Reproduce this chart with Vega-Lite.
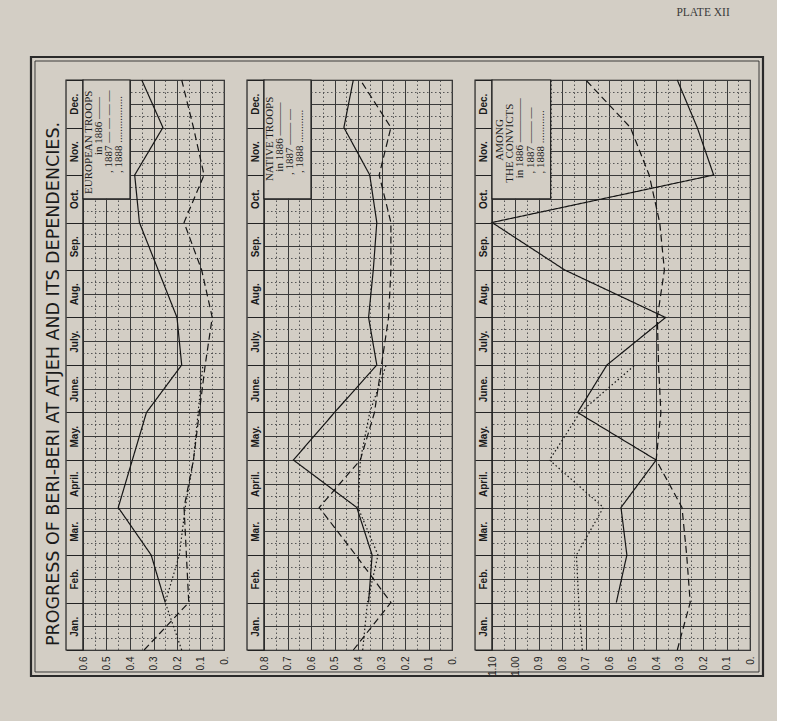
{
  "$schema": "https://vega.github.io/schema/vega-lite/v6.json",
  "background": "#d3cec5",
  "padding": {"left": 29, "top": 6, "right": 12, "bottom": 45},
  "bounds": "flush",
  "spacing": 40,
  "config": {
    "view": {"stroke": "#222", "strokeWidth": 1.2},
    "axis": {"labelColor": "#1a1a1a", "title": null, "domain": false, "labelOverlap": false, "labelFlush": false, "labelBound": false}
  },
  "datasets": {
    "european": [
      {"year": "1886", "m": 1, "v": 0.25}, {"year": "1886", "m": 2, "v": 0.31}, {"year": "1886", "m": 3, "v": 0.45},
      {"year": "1886", "m": 4, "v": 0.39}, {"year": "1886", "m": 5, "v": 0.33}, {"year": "1886", "m": 6, "v": 0.18},
      {"year": "1886", "m": 7, "v": 0.2}, {"year": "1886", "m": 8, "v": 0.28}, {"year": "1886", "m": 9, "v": 0.36},
      {"year": "1886", "m": 10, "v": 0.38}, {"year": "1886", "m": 11, "v": 0.26}, {"year": "1886", "m": 12, "v": 0.35},
      {"year": "1887", "m": 0, "v": 0.34}, {"year": "1887", "m": 1, "v": 0.15}, {"year": "1887", "m": 2, "v": 0.16},
      {"year": "1887", "m": 3, "v": 0.17}, {"year": "1887", "m": 4, "v": 0.13}, {"year": "1887", "m": 5, "v": 0.105},
      {"year": "1887", "m": 6, "v": 0.08}, {"year": "1887", "m": 7, "v": 0.05}, {"year": "1887", "m": 8, "v": 0.095},
      {"year": "1887", "m": 9, "v": 0.17}, {"year": "1887", "m": 10, "v": 0.085}, {"year": "1887", "m": 11, "v": 0.13},
      {"year": "1887", "m": 12, "v": 0.18},
      {"year": "1888", "m": 0, "v": 0.18}, {"year": "1888", "m": 1, "v": 0.25}, {"year": "1888", "m": 2, "v": 0.19},
      {"year": "1888", "m": 3, "v": 0.165}, {"year": "1888", "m": 4, "v": 0.13}, {"year": "1888", "m": 5, "v": 0.11},
      {"year": "1888", "m": 6, "v": 0.09}
    ],
    "native": [
      {"year": "1886", "m": 1, "v": 0.355}, {"year": "1886", "m": 2, "v": 0.34}, {"year": "1886", "m": 3, "v": 0.405},
      {"year": "1886", "m": 4, "v": 0.675}, {"year": "1886", "m": 5, "v": 0.5}, {"year": "1886", "m": 6, "v": 0.32},
      {"year": "1886", "m": 7, "v": 0.355}, {"year": "1886", "m": 8, "v": 0.335}, {"year": "1886", "m": 9, "v": 0.32},
      {"year": "1886", "m": 10, "v": 0.35}, {"year": "1886", "m": 11, "v": 0.46}, {"year": "1886", "m": 12, "v": 0.42},
      {"year": "1887", "m": 0, "v": 0.42}, {"year": "1887", "m": 1, "v": 0.26}, {"year": "1887", "m": 2, "v": 0.41},
      {"year": "1887", "m": 3, "v": 0.565}, {"year": "1887", "m": 4, "v": 0.39}, {"year": "1887", "m": 5, "v": 0.33},
      {"year": "1887", "m": 6, "v": 0.3}, {"year": "1887", "m": 7, "v": 0.27}, {"year": "1887", "m": 8, "v": 0.26},
      {"year": "1887", "m": 9, "v": 0.26}, {"year": "1887", "m": 10, "v": 0.31}, {"year": "1887", "m": 11, "v": 0.26},
      {"year": "1887", "m": 12, "v": 0.39},
      {"year": "1888", "m": 0, "v": 0.38}, {"year": "1888", "m": 1, "v": 0.36}, {"year": "1888", "m": 2, "v": 0.315},
      {"year": "1888", "m": 3, "v": 0.4}, {"year": "1888", "m": 4, "v": 0.39}, {"year": "1888", "m": 5, "v": 0.35},
      {"year": "1888", "m": 6, "v": 0.28}
    ],
    "convicts": [
      {"year": "1886", "m": 1, "v": 0.57}, {"year": "1886", "m": 2, "v": 0.525}, {"year": "1886", "m": 3, "v": 0.55},
      {"year": "1886", "m": 4, "v": 0.4}, {"year": "1886", "m": 5, "v": 0.735}, {"year": "1886", "m": 6, "v": 0.61},
      {"year": "1886", "m": 7, "v": 0.36}, {"year": "1886", "m": 8, "v": 0.79}, {"year": "1886", "m": 9, "v": 1.1},
      {"year": "1886", "m": 10, "v": 0.155}, {"year": "1886", "m": 11, "v": 0.225}, {"year": "1886", "m": 12, "v": 0.31},
      {"year": "1887", "m": 0, "v": 0.31}, {"year": "1887", "m": 1, "v": 0.255}, {"year": "1887", "m": 2, "v": 0.27},
      {"year": "1887", "m": 3, "v": 0.29}, {"year": "1887", "m": 4, "v": 0.4}, {"year": "1887", "m": 5, "v": 0.38},
      {"year": "1887", "m": 6, "v": 0.39}, {"year": "1887", "m": 7, "v": 0.395}, {"year": "1887", "m": 8, "v": 0.365},
      {"year": "1887", "m": 9, "v": 0.385}, {"year": "1887", "m": 10, "v": 0.43}, {"year": "1887", "m": 11, "v": 0.51},
      {"year": "1887", "m": 12, "v": 0.7},
      {"year": "1888", "m": 0, "v": 0.715}, {"year": "1888", "m": 1, "v": 0.73}, {"year": "1888", "m": 2, "v": 0.74},
      {"year": "1888", "m": 3, "v": 0.625}, {"year": "1888", "m": 4, "v": 0.855}, {"year": "1888", "m": 5, "v": 0.725},
      {"year": "1888", "m": 6, "v": 0.49}
    ]
  },
  "hconcat": [
    {
      "width": 141, "height": 570,
      "resolve": {"axis": {"x": "independent", "y": "independent"}},
      "layer": [
        {"data": {"name": "european"},
         "mark": {"type": "line", "stroke": "#151515", "strokeWidth": 1.2},
         "encoding": {
           "x": {"field": "v", "type": "quantitative", "scale": {"domain": [0, 0.6], "reverse": true, "nice": false, "zero": false},
             "axis": {"orient": "bottom", "values": [0, 0.1, 0.2, 0.3, 0.4, 0.5, 0.6], "ticks": false,
               "labelExpr": "datum.value == 0 ? '0.' : format(datum.value, '.1f')",
               "labelAngle": 270, "labelAlign": "right", "labelBaseline": "middle", "labelPadding": 6, "labelFont": "Liberation Sans", "labelFontSize": 10,
               "grid": true, "gridColor": "#3a3a3a", "gridWidth": 1}},
           "y": {"field": "m", "type": "quantitative", "scale": {"domain": [0, 12], "nice": false, "zero": false},
             "axis": {"orient": "left", "values": [0,1,2,3,4,5,6,7,8,9,10,11,12],
               "ticks": true, "tickSize": 17, "tickWidth": 1, "tickColor": "#222",
               "labelExpr": "datum.value < 12 ? ['Jan.','Feb.','Mar.','April.','May.','June.','July.','Aug.','Sep.','Oct.','Nov.','Dec.'][datum.value] : ''",
               "labelOffset": -23.75, "labelAngle": 270, "labelAlign": "center", "labelBaseline": "middle", "labelPadding": -8.5, "labelFont": "Liberation Sans", "labelFontSize": 10, "labelFontWeight": "bold",
               "grid": true, "gridColor": "#3a3a3a", "gridWidth": 1}},
           "order": {"field": "m", "type": "quantitative"},
           "detail": {"field": "year", "type": "nominal"},
           "strokeDash": {"field": "year", "type": "nominal", "scale": {"domain": ["1886", "1887", "1888"], "range": [[1, 0], [7, 4], [1.5, 2.5]]}, "legend": null}
         }},
        {"data": {"values": [{}]}, "mark": {"type": "rect", "fill": "transparent", "stroke": "#222", "strokeWidth": 1.2},
         "encoding": {
           "x": {"datum": 0.6, "type": "quantitative", "axis": {"orient": "bottom", "values": [0.05, 0.15, 0.25, 0.35, 0.45, 0.55], "ticks": false, "labels": false, "grid": true, "gridColor": "#555", "gridDash": [1.5, 2.5], "gridWidth": 1}},
           "x2": {"datum": 0.6723},
           "y": {"datum": 0, "type": "quantitative", "axis": {"orient": "left", "values": [0.5,1.5,2.5,3.5,4.5,5.5,6.5,7.5,8.5,9.5,10.5,11.5], "ticks": false, "labels": false, "grid": true, "gridColor": "#3a3a3a", "gridWidth": 1}},
           "y2": {"datum": 12}}},
        {"data": {"values": [{}]}, "mark": {"type": "rect", "fill": "#d3cec5", "stroke": "#222", "strokeWidth": 1.2},
         "encoding": {
           "x": {"datum": 0.6, "type": "quantitative", "axis": null}, "x2": {"datum": 0.4},
           "y": {"datum": 9.5, "type": "quantitative", "axis": {"orient": "left", "values": [0.25,0.75,1.25,1.75,2.25,2.75,3.25,3.75,4.25,4.75,5.25,5.75,6.25,6.75,7.25,7.75,8.25,8.75,9.25,9.75,10.25,10.75,11.25,11.75], "ticks": false, "labels": false, "grid": true, "gridColor": "#555", "gridDash": [1.5, 2.5], "gridWidth": 1}},
           "y2": {"datum": 12}}},
        {"data": {"values": [{}]}, "mark": {"type": "rect", "fill": "transparent", "stroke": "#2a2a2a", "strokeWidth": 2.2},
         "encoding": {"x": {"datum": 0.8213, "type": "quantitative", "axis": null}, "x2": {"datum": -2.2936}, "y": {"datum": 12.484, "type": "quantitative", "axis": null}, "y2": {"datum": -0.547}}},
        {"data": {"values": [{}]}, "mark": {"type": "rect", "fill": "transparent", "stroke": "#2a2a2a", "strokeWidth": 0.9},
         "encoding": {"x": {"datum": 0.8043, "type": "quantitative", "axis": null}, "x2": {"datum": -2.2766}, "y": {"datum": 12.4, "type": "quantitative", "axis": null}, "y2": {"datum": -0.463}}},
        {"data": {"values": [{}]}, "mark": {"type": "text", "text": "PROGRESS OF BERI-BERI AT ATJEH AND ITS DEPENDENCIES.", "angle": 270, "align": "center", "baseline": "middle", "font": "DejaVu Sans", "fontSize": 17.5, "color": "#1a1a1a"},
         "encoding": {"x": {"datum": 0.7234, "type": "quantitative", "axis": null}, "y": {"datum": 5.6, "type": "quantitative", "axis": null}}},
        {"data": {"values": [{}]}, "mark": {"type": "text", "text": "EUROPEAN TROOPS", "angle": 270, "align": "center", "baseline": "middle", "font": "Liberation Serif", "fontSize": 11, "color": "#1a1a1a"},
         "encoding": {"x": {"datum": 0.575, "type": "quantitative", "axis": null}, "y": {"datum": 10.69, "type": "quantitative", "axis": null}}},
        {"data": {"values": [{}]}, "mark": {"type": "text", "text": "in 1886 ——", "angle": 270, "align": "left", "baseline": "middle", "font": "Liberation Serif", "fontSize": 11, "color": "#1a1a1a"},
         "encoding": {"x": {"datum": 0.533, "type": "quantitative", "axis": null}, "y": {"datum": 10.42, "type": "quantitative", "axis": null}}},
        {"data": {"values": [{}]}, "mark": {"type": "text", "text": ",  1887 — — — —", "angle": 270, "align": "left", "baseline": "middle", "font": "Liberation Serif", "fontSize": 11, "color": "#1a1a1a"},
         "encoding": {"x": {"datum": 0.49, "type": "quantitative", "axis": null}, "y": {"datum": 10.04, "type": "quantitative", "axis": null}}},
        {"data": {"values": [{}]}, "mark": {"type": "text", "text": ",  1888 .................", "angle": 270, "align": "left", "baseline": "middle", "font": "Liberation Serif", "fontSize": 11, "color": "#1a1a1a"},
         "encoding": {"x": {"datum": 0.447, "type": "quantitative", "axis": null}, "y": {"datum": 10.04, "type": "quantitative", "axis": null}}}
      ]
    },
    {
      "width": 188, "height": 570,
      "resolve": {"axis": {"x": "independent", "y": "independent"}},
      "layer": [
        {"data": {"name": "native"},
         "mark": {"type": "line", "stroke": "#151515", "strokeWidth": 1.2},
         "encoding": {
           "x": {"field": "v", "type": "quantitative", "scale": {"domain": [0, 0.8], "reverse": true, "nice": false, "zero": false},
             "axis": {"orient": "bottom", "values": [0, 0.1, 0.2, 0.3, 0.4, 0.5, 0.6, 0.7, 0.8], "ticks": false,
               "labelExpr": "datum.value == 0 ? '0.' : format(datum.value, '.1f')",
               "labelAngle": 270, "labelAlign": "right", "labelBaseline": "middle", "labelPadding": 6, "labelFont": "Liberation Sans", "labelFontSize": 10,
               "grid": true, "gridColor": "#3a3a3a", "gridWidth": 1}},
           "y": {"field": "m", "type": "quantitative", "scale": {"domain": [0, 12], "nice": false, "zero": false},
             "axis": {"orient": "left", "values": [0,1,2,3,4,5,6,7,8,9,10,11,12],
               "ticks": true, "tickSize": 17, "tickWidth": 1, "tickColor": "#222",
               "labelExpr": "datum.value < 12 ? ['Jan.','Feb.','Mar.','April.','May.','June.','July.','Aug.','Sep.','Oct.','Nov.','Dec.'][datum.value] : ''",
               "labelOffset": -23.75, "labelAngle": 270, "labelAlign": "center", "labelBaseline": "middle", "labelPadding": -8.5, "labelFont": "Liberation Sans", "labelFontSize": 10, "labelFontWeight": "bold",
               "grid": true, "gridColor": "#3a3a3a", "gridWidth": 1}},
           "order": {"field": "m", "type": "quantitative"},
           "detail": {"field": "year", "type": "nominal"},
           "strokeDash": {"field": "year", "type": "nominal", "scale": {"domain": ["1886", "1887", "1888"], "range": [[1, 0], [7, 4], [1.5, 2.5]]}, "legend": null}
         }},
        {"data": {"values": [{}]}, "mark": {"type": "rect", "fill": "transparent", "stroke": "#222", "strokeWidth": 1.2},
         "encoding": {
           "x": {"datum": 0.8, "type": "quantitative", "axis": {"orient": "bottom", "values": [0.05, 0.15, 0.25, 0.35, 0.45, 0.55, 0.65, 0.75], "ticks": false, "labels": false, "grid": true, "gridColor": "#555", "gridDash": [1.5, 2.5], "gridWidth": 1}},
           "x2": {"datum": 0.8723},
           "y": {"datum": 0, "type": "quantitative", "axis": {"orient": "left", "values": [0.5,1.5,2.5,3.5,4.5,5.5,6.5,7.5,8.5,9.5,10.5,11.5], "ticks": false, "labels": false, "grid": true, "gridColor": "#3a3a3a", "gridWidth": 1}},
           "y2": {"datum": 12}}},
        {"data": {"values": [{}]}, "mark": {"type": "rect", "fill": "#d3cec5", "stroke": "#222", "strokeWidth": 1.2},
         "encoding": {
           "x": {"datum": 0.8, "type": "quantitative", "axis": null}, "x2": {"datum": 0.6},
           "y": {"datum": 9.5, "type": "quantitative", "axis": {"orient": "left", "values": [0.25,0.75,1.25,1.75,2.25,2.75,3.25,3.75,4.25,4.75,5.25,5.75,6.25,6.75,7.25,7.75,8.25,8.75,9.25,9.75,10.25,10.75,11.25,11.75], "ticks": false, "labels": false, "grid": true, "gridColor": "#555", "gridDash": [1.5, 2.5], "gridWidth": 1}},
           "y2": {"datum": 12}}},
        {"data": {"values": [{}]}, "mark": {"type": "text", "text": "NATIVE TROOPS", "angle": 270, "align": "center", "baseline": "middle", "font": "Liberation Serif", "fontSize": 11, "color": "#1a1a1a"},
         "encoding": {"x": {"datum": 0.775, "type": "quantitative", "axis": null}, "y": {"datum": 10.76, "type": "quantitative", "axis": null}}},
        {"data": {"values": [{}]}, "mark": {"type": "text", "text": "in 1886 ———", "angle": 270, "align": "left", "baseline": "middle", "font": "Liberation Serif", "fontSize": 11, "color": "#1a1a1a"},
         "encoding": {"x": {"datum": 0.733, "type": "quantitative", "axis": null}, "y": {"datum": 10.07, "type": "quantitative", "axis": null}}},
        {"data": {"values": [{}]}, "mark": {"type": "text", "text": ",  1887 —— —", "angle": 270, "align": "left", "baseline": "middle", "font": "Liberation Serif", "fontSize": 11, "color": "#1a1a1a"},
         "encoding": {"x": {"datum": 0.69, "type": "quantitative", "axis": null}, "y": {"datum": 10.0, "type": "quantitative", "axis": null}}},
        {"data": {"values": [{}]}, "mark": {"type": "text", "text": ",  1888 ............", "angle": 270, "align": "left", "baseline": "middle", "font": "Liberation Serif", "fontSize": 11, "color": "#1a1a1a"},
         "encoding": {"x": {"datum": 0.647, "type": "quantitative", "axis": null}, "y": {"datum": 10.04, "type": "quantitative", "axis": null}}}
      ]
    },
    {
      "width": 258, "height": 570,
      "resolve": {"axis": {"x": "independent", "y": "independent"}},
      "layer": [
        {"data": {"name": "convicts"},
         "mark": {"type": "line", "stroke": "#151515", "strokeWidth": 1.2},
         "encoding": {
           "x": {"field": "v", "type": "quantitative", "scale": {"domain": [0, 1.1], "reverse": true, "nice": false, "zero": false},
             "axis": {"orient": "bottom", "values": [0, 0.1, 0.2, 0.3, 0.4, 0.5, 0.6, 0.7, 0.8, 0.9, 1, 1.1], "ticks": false,
               "labelExpr": "datum.value == 0 ? '0.' : datum.value > 0.95 ? format(datum.value, '.2f') : format(datum.value, '.1f')",
               "labelAngle": 270, "labelAlign": "right", "labelBaseline": "middle", "labelPadding": 6, "labelFont": "Liberation Sans", "labelFontSize": 10,
               "grid": true, "gridColor": "#3a3a3a", "gridWidth": 1}},
           "y": {"field": "m", "type": "quantitative", "scale": {"domain": [0, 12], "nice": false, "zero": false},
             "axis": {"orient": "left", "values": [0,1,2,3,4,5,6,7,8,9,10,11,12],
               "ticks": true, "tickSize": 17, "tickWidth": 1, "tickColor": "#222",
               "labelExpr": "datum.value < 12 ? ['Jan.','Feb.','Mar.','April.','May.','June.','July.','Aug.','Sep.','Oct.','Nov.','Dec.'][datum.value] : ''",
               "labelOffset": -23.75, "labelAngle": 270, "labelAlign": "center", "labelBaseline": "middle", "labelPadding": -8.5, "labelFont": "Liberation Sans", "labelFontSize": 10, "labelFontWeight": "bold",
               "grid": true, "gridColor": "#3a3a3a", "gridWidth": 1}},
           "order": {"field": "m", "type": "quantitative"},
           "detail": {"field": "year", "type": "nominal"},
           "strokeDash": {"field": "year", "type": "nominal", "scale": {"domain": ["1886", "1887", "1888"], "range": [[1, 0], [7, 4], [1.5, 2.5]]}, "legend": null}
         }},
        {"data": {"values": [{}]}, "mark": {"type": "rect", "fill": "transparent", "stroke": "#222", "strokeWidth": 1.2},
         "encoding": {
           "x": {"datum": 1.1, "type": "quantitative", "axis": {"orient": "bottom", "values": [0.05, 0.15, 0.25, 0.35, 0.45, 0.55, 0.65, 0.75, 0.85, 0.95, 1.05], "ticks": false, "labels": false, "grid": true, "gridColor": "#555", "gridDash": [1.5, 2.5], "gridWidth": 1}},
           "x2": {"datum": 1.1723},
           "y": {"datum": 0, "type": "quantitative", "axis": {"orient": "left", "values": [0.5,1.5,2.5,3.5,4.5,5.5,6.5,7.5,8.5,9.5,10.5,11.5], "ticks": false, "labels": false, "grid": true, "gridColor": "#3a3a3a", "gridWidth": 1}},
           "y2": {"datum": 12}}},
        {"data": {"values": [{}]}, "mark": {"type": "rect", "fill": "#d3cec5", "stroke": "#222", "strokeWidth": 1.2},
         "encoding": {
           "x": {"datum": 1.1, "type": "quantitative", "axis": null}, "x2": {"datum": 0.85},
           "y": {"datum": 9.5, "type": "quantitative", "axis": {"orient": "left", "values": [0.25,0.75,1.25,1.75,2.25,2.75,3.25,3.75,4.25,4.75,5.25,5.75,6.25,6.75,7.25,7.75,8.25,8.75,9.25,9.75,10.25,10.75,11.25,11.75], "ticks": false, "labels": false, "grid": true, "gridColor": "#555", "gridDash": [1.5, 2.5], "gridWidth": 1}},
           "y2": {"datum": 12}}},
        {"data": {"values": [{}]}, "mark": {"type": "text", "text": "PLATE XII", "align": "center", "baseline": "middle", "font": "Liberation Serif", "fontSize": 11.5, "color": "#3a3a3a"},
         "encoding": {"x": {"datum": 0.2, "type": "quantitative", "axis": null}, "y": {"datum": 13.41, "type": "quantitative", "axis": null}}},
        {"data": {"values": [{}]}, "mark": {"type": "text", "text": "AMONG", "angle": 270, "align": "center", "baseline": "middle", "font": "Liberation Serif", "fontSize": 11, "color": "#1a1a1a"},
         "encoding": {"x": {"datum": 1.065, "type": "quantitative", "axis": null}, "y": {"datum": 10.74, "type": "quantitative", "axis": null}}},
        {"data": {"values": [{}]}, "mark": {"type": "text", "text": "THE CONVICTS", "angle": 270, "align": "center", "baseline": "middle", "font": "Liberation Serif", "fontSize": 11, "color": "#1a1a1a"},
         "encoding": {"x": {"datum": 1.022, "type": "quantitative", "axis": null}, "y": {"datum": 10.67, "type": "quantitative", "axis": null}}},
        {"data": {"values": [{}]}, "mark": {"type": "text", "text": "in 1886 ————", "angle": 270, "align": "left", "baseline": "middle", "font": "Liberation Serif", "fontSize": 11, "color": "#1a1a1a"},
         "encoding": {"x": {"datum": 0.98, "type": "quantitative", "axis": null}, "y": {"datum": 9.93, "type": "quantitative", "axis": null}}},
        {"data": {"values": [{}]}, "mark": {"type": "text", "text": ",  1887 —— —", "angle": 270, "align": "left", "baseline": "middle", "font": "Liberation Serif", "fontSize": 11, "color": "#1a1a1a"},
         "encoding": {"x": {"datum": 0.935, "type": "quantitative", "axis": null}, "y": {"datum": 10.03, "type": "quantitative", "axis": null}}},
        {"data": {"values": [{}]}, "mark": {"type": "text", "text": ",  1888 ............", "angle": 270, "align": "left", "baseline": "middle", "font": "Liberation Serif", "fontSize": 11, "color": "#1a1a1a"},
         "encoding": {"x": {"datum": 0.89, "type": "quantitative", "axis": null}, "y": {"datum": 10.03, "type": "quantitative", "axis": null}}}
      ]
    }
  ]
}
